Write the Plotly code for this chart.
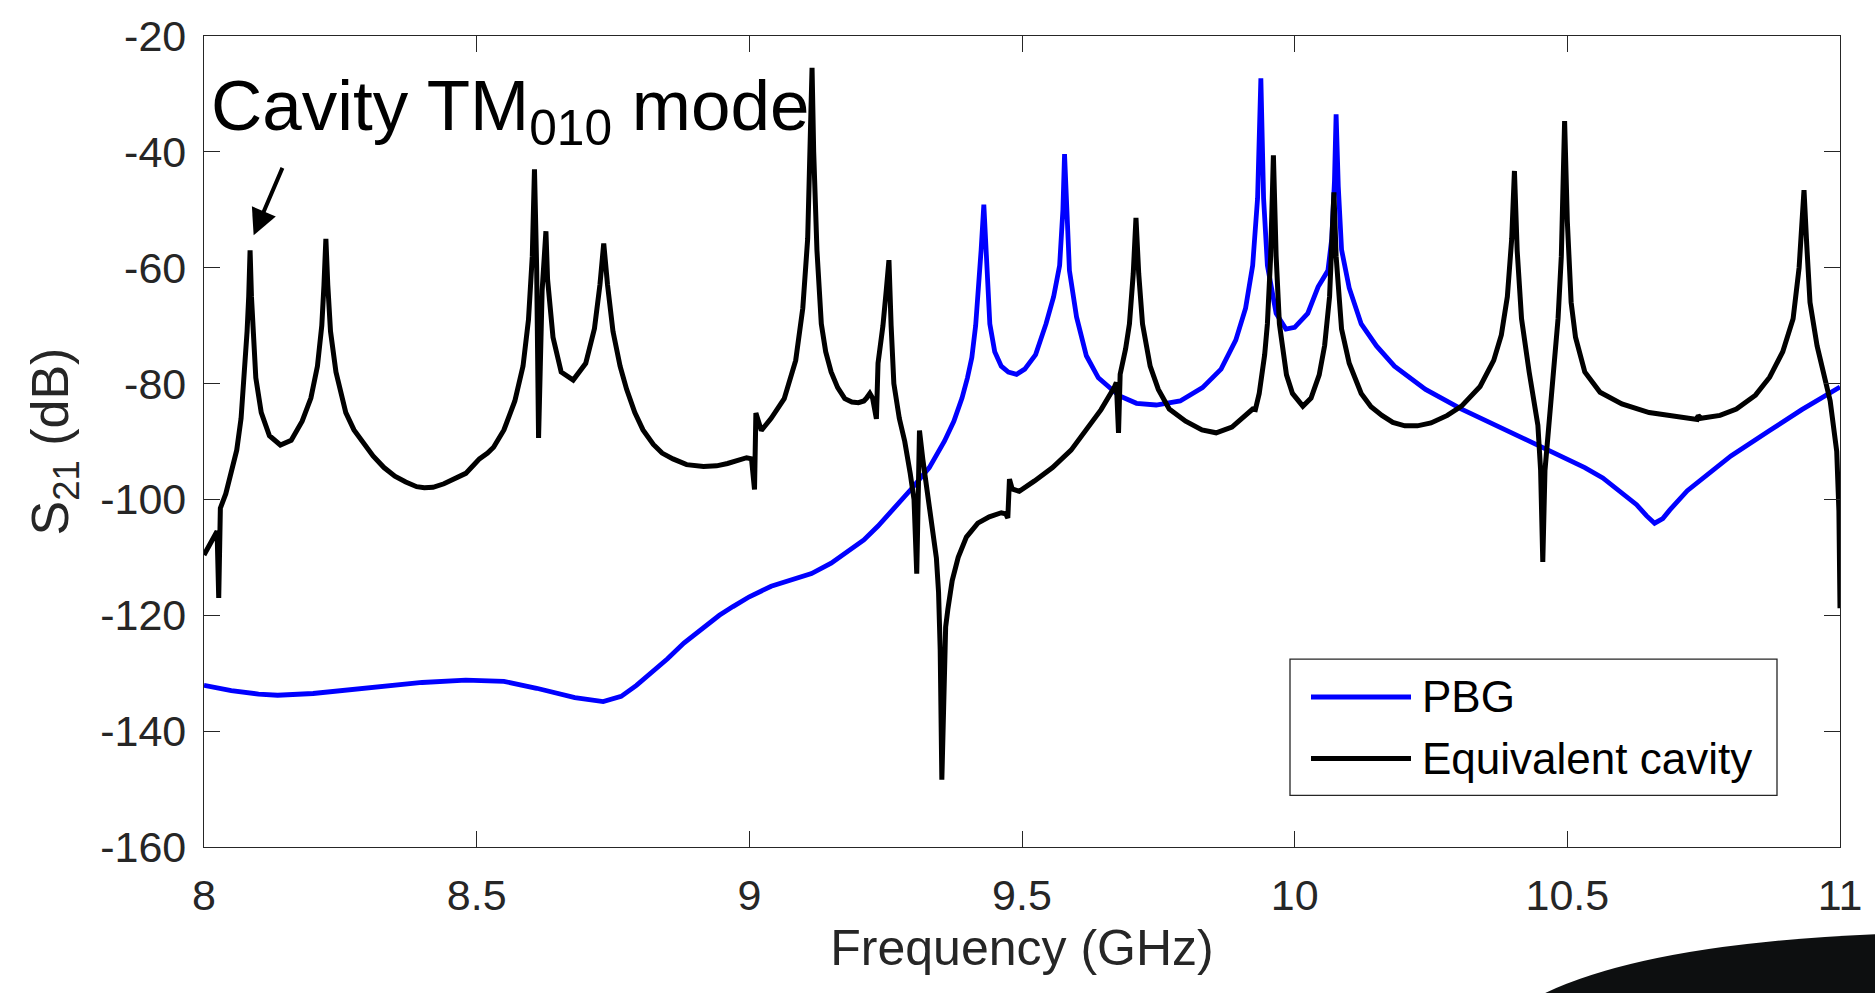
import plotly.graph_objects as go

# ---------------- data ----------------
cavity_f = [8.000, 8.010, 8.020, 8.024, 8.027, 8.030, 8.040, 8.050, 8.060, 8.068,
            8.074, 8.079, 8.082, 8.0845, 8.087, 8.090, 8.095, 8.105, 8.120, 8.140,
            8.160, 8.180, 8.196, 8.208, 8.216, 8.220, 8.2235, 8.227, 8.232, 8.242,
            8.250, 8.260, 8.275, 8.290, 8.310, 8.330, 8.350, 8.370, 8.390, 8.404,
            8.420, 8.440, 8.460, 8.480, 8.495, 8.505, 8.520, 8.531, 8.550, 8.570,
            8.585, 8.595, 8.602, 8.606, 8.610, 8.6135, 8.620, 8.625, 8.627, 8.630,
            8.640, 8.655, 8.677, 8.700, 8.716, 8.726, 8.733, 8.740, 8.750, 8.763,
            8.775, 8.790, 8.805, 8.824, 8.840, 8.860, 8.885, 8.916, 8.940, 8.960,
            8.980, 8.995, 9.004, 9.0095, 9.012, 9.022, 9.040, 9.064, 9.085, 9.098,
            9.107, 9.112, 9.115, 9.118, 9.124, 9.132, 9.140, 9.150, 9.162, 9.175,
            9.188, 9.200, 9.210, 9.215, 9.221, 9.226, 9.233, 9.236, 9.245, 9.251,
            9.256, 9.260, 9.265, 9.275, 9.285, 9.295, 9.302, 9.307, 9.312, 9.318,
            9.325, 9.335, 9.343, 9.347, 9.350, 9.353, 9.357, 9.360, 9.364, 9.372,
            9.383, 9.398, 9.419, 9.440, 9.462, 9.470, 9.474, 9.477, 9.482, 9.495,
            9.523, 9.556, 9.590, 9.617, 9.645, 9.669, 9.673, 9.677, 9.680, 9.690,
            9.697, 9.704, 9.709, 9.714, 9.721, 9.735, 9.750, 9.770, 9.800, 9.830,
            9.856, 9.885, 9.910, 9.923, 9.928, 9.935, 9.945, 9.950, 9.956, 9.961,
            9.966, 9.972, 9.985, 9.996, 10.015, 10.030, 10.045, 10.055, 10.064, 10.069,
            10.072, 10.076, 10.086, 10.100, 10.122, 10.140, 10.160, 10.180, 10.202, 10.225,
            10.250, 10.280, 10.306, 10.340, 10.365, 10.379, 10.390, 10.398, 10.403, 10.408,
            10.416, 10.430, 10.446, 10.451, 10.455, 10.459, 10.465, 10.475, 10.483, 10.489,
            10.495, 10.500, 10.507, 10.515, 10.532, 10.560, 10.600, 10.650, 10.700, 10.738,
            10.740, 10.745, 10.780, 10.810, 10.845, 10.871, 10.895, 10.914, 10.925, 10.930,
            10.934, 10.939, 10.945, 10.958, 10.970, 10.982, 10.994, 10.998, 11.000]
cavity_db = [-109.6, -108.0, -106.0, -105.5, -117.0, -101.5, -99.0, -95.5, -91.5, -86.0,
             -79.0, -71.0, -65.0, -57.0, -65.0, -72.0, -79.0, -85.0, -89.0, -90.6,
             -89.8, -86.5, -82.5, -77.0, -70.0, -63.0, -55.0, -63.0, -71.0, -78.0,
             -81.5, -85.0, -88.0, -90.0, -92.5, -94.5, -96.0, -97.0, -97.8, -98.0,
             -97.9, -97.3, -96.5, -95.5, -94.0, -93.0, -92.0, -91.0, -88.0, -83.0,
             -77.0, -69.0, -58.0, -43.0, -60.0, -89.4, -64.0, -56.0, -53.7, -62.0,
             -72.0, -78.0, -79.4, -76.5, -70.5, -63.0, -55.8, -63.0, -71.0, -77.0,
             -81.0, -85.0, -88.0, -90.5, -92.0, -93.0, -94.0, -94.3, -94.2, -93.8,
             -93.3, -92.8, -93.0, -98.3, -85.1, -88.1, -86.0, -82.6, -76.0, -67.0,
             -55.0, -40.0, -25.5, -40.0, -57.0, -69.7, -74.5, -78.0, -80.7, -82.6,
             -83.2, -83.3, -83.0, -82.5, -81.7, -82.5, -86.1, -76.5, -70.0, -64.0,
             -58.7, -70.0, -80.0, -86.0, -90.0, -95.5, -100.0, -112.8, -88.1, -93.0,
             -98.2, -104.0, -110.1, -116.0, -126.0, -148.4, -128.0, -122.0, -119.0, -114.0,
             -110.0, -106.5, -104.1, -103.0, -102.3, -102.5, -103.2, -96.5, -98.2, -98.6,
             -96.8, -94.5, -91.5, -88.1, -84.5, -80.7, -79.8, -88.5, -78.4, -74.0,
             -69.7, -61.0, -51.4, -61.0, -69.7, -77.0, -81.0, -84.4, -86.5, -88.0,
             -88.5, -87.5, -85.5, -84.4, -84.5, -81.7, -75.0, -69.7, -58.0, -40.6,
             -58.0, -69.7, -78.5, -81.7, -83.9, -82.5, -78.5, -73.4, -65.0, -56.0,
             -47.0, -58.0, -70.6, -76.5, -81.7, -84.0, -85.5, -86.7, -87.3, -87.3,
             -86.8, -85.5, -83.9, -80.5, -76.0, -71.6, -65.0, -55.0, -43.3, -57.0,
             -68.8, -78.0, -87.2, -95.0, -110.8, -95.0, -88.0, -78.0, -68.8, -58.0,
             -34.7, -52.0, -66.0, -72.0, -78.0, -81.5, -83.5, -85.0, -85.8, -86.2,
             -85.5, -86.0, -85.5, -84.4, -82.0, -78.9, -74.5, -68.8, -60.0, -53.0,
             -46.6, -56.0, -66.0, -73.5, -78.0, -83.0, -91.7, -102.0, -118.8]

pbg_f = [8.000, 8.050, 8.100, 8.135, 8.200, 8.300, 8.400, 8.480, 8.550, 8.610,
         8.680, 8.732, 8.765, 8.793, 8.820, 8.850, 8.880, 8.916, 8.945, 8.970,
         9.000, 9.040, 9.080, 9.114, 9.150, 9.180, 9.210, 9.236, 9.265, 9.297,
         9.330, 9.358, 9.375, 9.390, 9.400, 9.408, 9.415, 9.420, 9.425, 9.430,
         9.434, 9.441, 9.450, 9.462, 9.475, 9.490, 9.505, 9.525, 9.544, 9.558,
         9.569, 9.575, 9.578, 9.582, 9.587, 9.600, 9.618, 9.640, 9.678, 9.710,
         9.746, 9.790, 9.831, 9.865, 9.892, 9.910, 9.923, 9.932, 9.938, 9.943,
         9.950, 9.966, 9.984, 10.000, 10.024, 10.043, 10.061, 10.068, 10.073, 10.076,
         10.080, 10.086, 10.100, 10.122, 10.150, 10.183, 10.240, 10.306, 10.370, 10.428,
         10.480, 10.532, 10.565, 10.600, 10.627, 10.645, 10.660, 10.675, 10.688, 10.720,
         10.749, 10.800, 10.871, 10.930, 11.000]
pbg_db = [-132.1, -133.0, -133.6, -133.8, -133.5, -132.5, -131.6, -131.2, -131.4, -132.6,
          -134.2, -134.9, -134.0, -132.1, -130.0, -127.5, -124.8, -122.0, -120.0, -118.5,
          -116.8, -115.0, -113.8, -112.8, -111.0, -109.0, -107.0, -104.6, -101.7, -98.2,
          -94.5, -89.9, -86.5, -82.5, -79.0, -75.5, -70.0, -64.0, -57.0, -49.1,
          -58.0, -69.7, -74.5, -77.0, -78.0, -78.4, -77.5, -75.0, -69.7, -65.0,
          -59.6, -50.0, -40.4, -52.0, -60.5, -68.5, -75.2, -79.0, -82.1, -83.4,
          -83.7, -83.0, -80.7, -77.5, -72.5, -67.0, -59.6, -48.0, -27.3, -48.0,
          -59.6, -67.9, -70.6, -70.3, -67.9, -63.3, -60.5, -55.0, -45.0, -33.5,
          -46.0, -56.9, -63.5, -69.7, -73.5, -77.0, -81.0, -84.4, -87.3, -89.9,
          -92.2, -94.5, -96.3, -99.0, -100.9, -102.8, -104.1, -103.3, -101.8, -98.5,
          -96.3, -92.5, -88.1, -84.5, -80.6]

series_names = ["PBG", "Equivalent cavity"]
series_colors = ["#0000FF", "#000000"]
x_ticks = [8, 8.5, 9, 9.5, 10, 10.5, 11]
x_ticktext = ["8", "8.5", "9", "9.5", "10", "10.5", "11"]
y_ticks = [-160, -140, -120, -100, -80, -60, -40, -20]
y_ticktext = ["-160", "-140", "-120", "-100", "-80", "-60", "-40", "-20"]

note_text = "Cavity TM<sub>010</sub> mode"
note_pos = (8.010, -33.0)
arrow_head = (8.091, -54.4)
arrow_tail = (8.145, -42.5)

# ---------------- layout geometry (pixels) ----------------
W, H = 1875, 993
L, R, T, B = 204, 35, 31, 146
PW, PH = W - L - R, H - T - B


def px(xp):
    return (xp - L) / PW


def py(yp):
    return (H - B - yp) / PH


AX = "#262626"
FONT = "Arial, Liberation Sans, Helvetica, sans-serif"
LW = 5.0

fig = go.Figure()
fig.add_trace(go.Scatter(x=pbg_f, y=pbg_db, mode="lines", name=series_names[0],
                         showlegend=False,
                         line=dict(color=series_colors[0], width=LW - 0.2)))
fig.add_trace(go.Scatter(x=cavity_f, y=cavity_db, mode="lines", name=series_names[1],
                         showlegend=False,
                         line=dict(color=series_colors[1], width=LW)))

axis_common = dict(showgrid=False, zeroline=False, showline=True, linecolor=AX,
                   linewidth=1.3, mirror="ticks", ticks="inside", ticklen=16,
                   tickwidth=1.3, tickcolor=AX,
                   tickfont=dict(family=FONT, size=43, color=AX))

fig.update_xaxes(range=[8, 11], tickvals=x_ticks, ticktext=x_ticktext,
                 ticklabelstandoff=10,
                 title=dict(text="Frequency (GHz)", standoff=12,
                            font=dict(family=FONT, size=50, color=AX)),
                 **axis_common)
fig.update_yaxes(range=[-160, -20], tickvals=y_ticks, ticktext=y_ticktext,
                 ticklabelstandoff=8,
                 title=dict(text="S<sub>21</sub> (dB)", standoff=14,
                            font=dict(family=FONT, size=52, color=AX)),
                 **axis_common)

fig.add_annotation(x=note_pos[0], y=note_pos[1], xref="x", yref="y",
                   text=note_text, showarrow=False, xanchor="left", yanchor="middle",
                   font=dict(family=FONT, size=71, color="#000000"))
fig.add_annotation(x=arrow_head[0], y=arrow_head[1], ax=arrow_tail[0], ay=arrow_tail[1],
                   xref="x", yref="y", axref="x", ayref="y", text="",
                   showarrow=True, arrowhead=2, arrowsize=1.3, arrowwidth=4,
                   arrowcolor="#000000")

# legend box drawn to match the long line samples of the original
box = (1290, 658, 1777, 795)
fig.add_shape(type="rect", xref="paper", yref="paper",
              x0=px(box[0]), x1=px(box[2]), y0=py(box[3]), y1=py(box[1]),
              line=dict(color=AX, width=1.3), fillcolor="white", layer="above")
rows_y = [696, 758]
for name, color, ry in zip(series_names, series_colors, rows_y):
    fig.add_shape(type="line", xref="paper", yref="paper",
                  x0=px(1311), x1=px(1411), y0=py(ry), y1=py(ry),
                  line=dict(color=color, width=LW), layer="above")
    fig.add_annotation(x=px(1420), y=py(ry), xref="paper", yref="paper",
                       text=name, showarrow=False, xanchor="left", yanchor="middle",
                       font=dict(family=FONT, size=44, color="#000000"))

# dark object intruding at the bottom-right corner of the original picture
fig.add_shape(type="path", xref="paper", yref="paper",
              path="M 0.8148,-0.185 Q 0.88,-0.118 1.03,-0.107 L 1.03,-0.185 Z",
              fillcolor="#0d0f10", line=dict(width=0), layer="above")

fig.update_layout(
    width=W, height=H, autosize=False,
    margin=dict(l=L, r=R, t=T, b=B),
    paper_bgcolor="white", plot_bgcolor="white",
    font=dict(family=FONT, color=AX),
    showlegend=False,
)

fig.write_html("out.html")
